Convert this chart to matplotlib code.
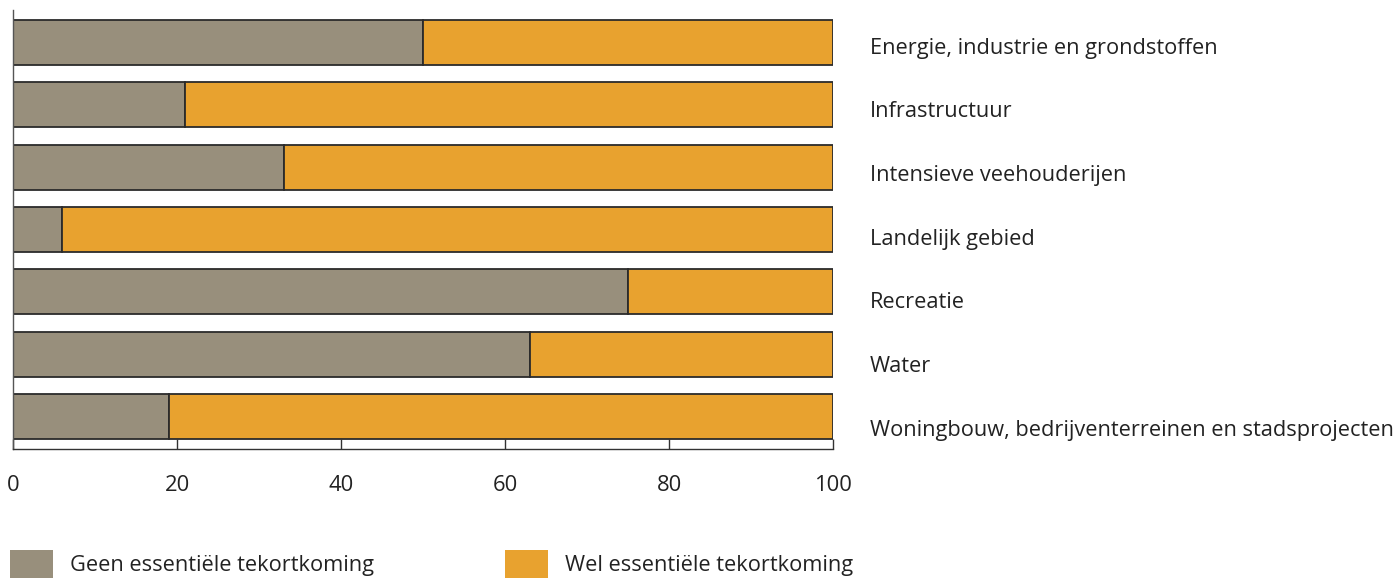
import matplotlib
matplotlib.use("Agg")
import matplotlib.pyplot as plt
from matplotlib.patches import Patch
from matplotlib.transforms import blended_transform_factory

plt.rcParams['font.family'] = ['Open Sans', 'DejaVu Sans']

categories = [
    "Energie, industrie en grondstoffen",
    "Infrastructuur",
    "Intensieve veehouderijen",
    "Landelijk gebied",
    "Recreatie",
    "Water",
    "Woningbouw, bedrijventerreinen en stadsprojecten",
]
geen = [50, 21, 33, 6, 75, 63, 19]
wel = [100 - g for g in geen]
series_names = ["Geen essentiële tekortkoming", "Wel essentiële tekortkoming"]
xticks = [0, 20, 40, 60, 80, 100]

c_geen = "#988F7C"
c_wel = "#E8A22F"
edge = "#2b2b2b"

fig = plt.figure(figsize=(13.96, 5.78), dpi=100)
W, H = 1396, 578
ax = fig.add_axes([13 / W, (578 - 449) / H, (833 - 13) / W, (449 - 10) / H])

y = list(range(len(categories)))
ax.barh(y, geen, height=0.72, color=c_geen, edgecolor=edge, linewidth=1.3)
ax.barh(y, wel, left=geen, height=0.72, color=c_wel, edgecolor=edge, linewidth=1.3)

ax.set_xlim(0, 100)
ax.set_ylim(6.5 + 0.02, -0.5 - 0.02)
ax.set_xticks(xticks)
ax.set_xticklabels([str(t) for t in xticks], fontsize=15.8, color="#222222")
ax.tick_params(axis='x', direction='in', length=7, width=1.0, pad=19, colors="#333333", labelcolor="#222222")
ax.set_yticks([])
for s in ['top', 'right']:
    ax.spines[s].set_visible(False)
ax.spines['left'].set_color("#555555")
ax.spines['bottom'].set_color("#333333")
ax.spines['left'].set_linewidth(1.0)
ax.spines['bottom'].set_linewidth(1.0)

tr = blended_transform_factory(ax.transAxes, ax.transData)
for i, cat in enumerate(categories):
    ax.text(1.045, i + 0.09 + 0.022 * i, cat, transform=tr, ha='left', va='center',
            fontsize=15.7, color="#222222", clip_on=False)

handles = [Patch(facecolor=c_geen, edgecolor='none'), Patch(facecolor=c_wel, edgecolor='none')]
fig.legend(handles, series_names, loc='lower left', bbox_to_anchor=(10 / W, 0.0),
           ncol=2, frameon=False, fontsize=15.7, handlelength=1.97, handleheight=1.6,
           handletextpad=0.78, columnspacing=6.0, borderpad=0, borderaxespad=0,
           labelcolor="#222222")

fig.savefig("out.png", dpi=100)
